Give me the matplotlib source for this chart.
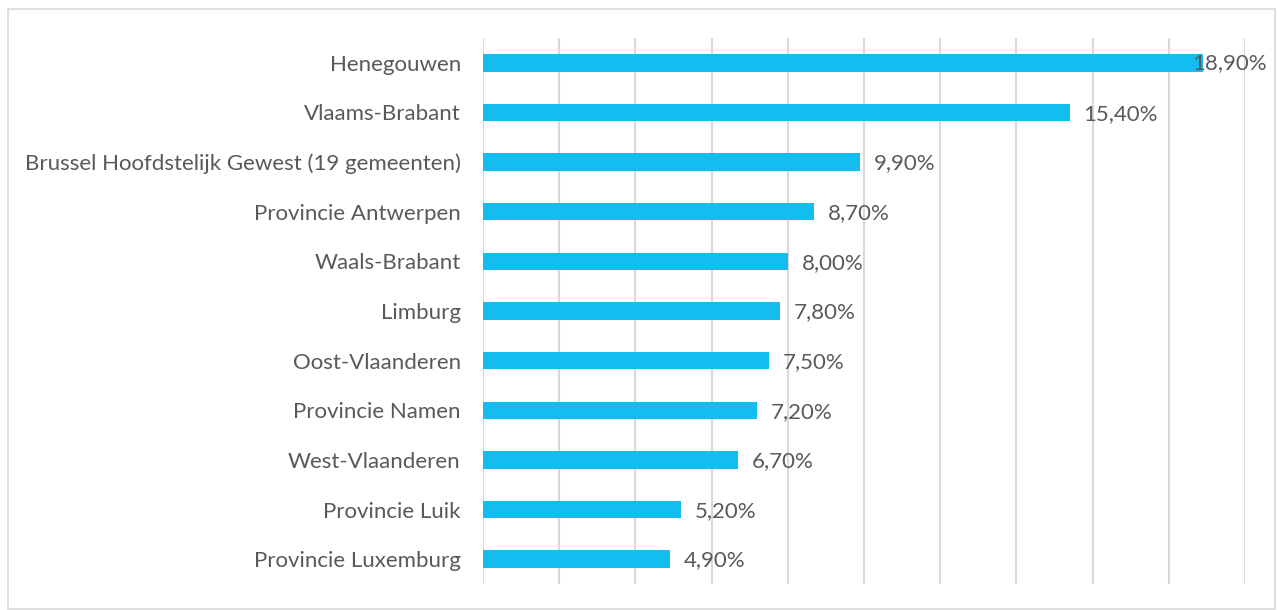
import matplotlib
matplotlib.use('Agg')
import matplotlib.pyplot as plt
import matplotlib.transforms as mtransforms
from matplotlib.patches import Rectangle

regions = [
    'Henegouwen',
    'Vlaams-Brabant',
    'Brussel Hoofdstelijk Gewest (19 gemeenten)',
    'Provincie Antwerpen',
    'Waals-Brabant',
    'Limburg',
    'Oost-Vlaanderen',
    'Provincie Namen',
    'West-Vlaanderen',
    'Provincie Luik',
    'Provincie Luxemburg',
]
shares = [18.9, 15.4, 9.9, 8.7, 8.0, 7.8, 7.5, 7.2, 6.7, 5.2, 4.9]
value_labels = ['18,90%', '15,40%', '9,90%', '8,70%', '8,00%', '7,80%',
                '7,50%', '7,20%', '6,70%', '5,20%', '4,90%']

bar_color = '#13BDF0'
text_color = '#595959'
grid_color = '#D9D9D9'
font = 'Lato'
fsize = 16

fig = plt.figure(figsize=(12.77, 6.10), dpi=100)
ax = fig.add_axes([483 / 1277, 1 - 584 / 610, (1245 - 483) / 1277, (584 - 38) / 610])

# light border around the whole chart
fig.patches.append(Rectangle((8 / 1277, 1 / 610), 1267 / 1277, 600 / 610,
                             transform=fig.transFigure, fill=False,
                             edgecolor='#D9D9D9', linewidth=1.2))

ypos = list(range(len(regions)))
ax.barh(ypos, shares, height=0.35, color=bar_color, zorder=3)

ax.set_xlim(0, 20)
ax.set_ylim(len(regions) - 0.5, -0.5)
ax.set_xticks(range(0, 21, 2))
ax.grid(axis='x', color=grid_color, linewidth=1.5, zorder=0)
ax.tick_params(axis='x', length=0, labelbottom=False)
ax.tick_params(axis='y', length=0, pad=16)
ax.set_yticks(ypos)
ax.set_yticklabels(regions, fontsize=fsize, color=text_color, family=font)
for s in ax.spines.values():
    s.set_visible(False)

# the largest label doesn't fit outside the bar, Excel pushes it back inside the chart
edge = mtransforms.blended_transform_factory(fig.transFigure, ax.transData)
for y, v, lab in zip(ypos, shares, value_labels):
    if v > 18:
        ax.text(1267 / 1277, y, lab, transform=edge, ha='right', va='center',
                fontsize=fsize, color=text_color, family=font, zorder=4)
    else:
        ax.annotate(lab, (v, y), xytext=(10, -1), textcoords='offset points',
                    ha='left', va='center', fontsize=fsize, color=text_color, family=font)

fig.savefig('out.png', dpi=100)
